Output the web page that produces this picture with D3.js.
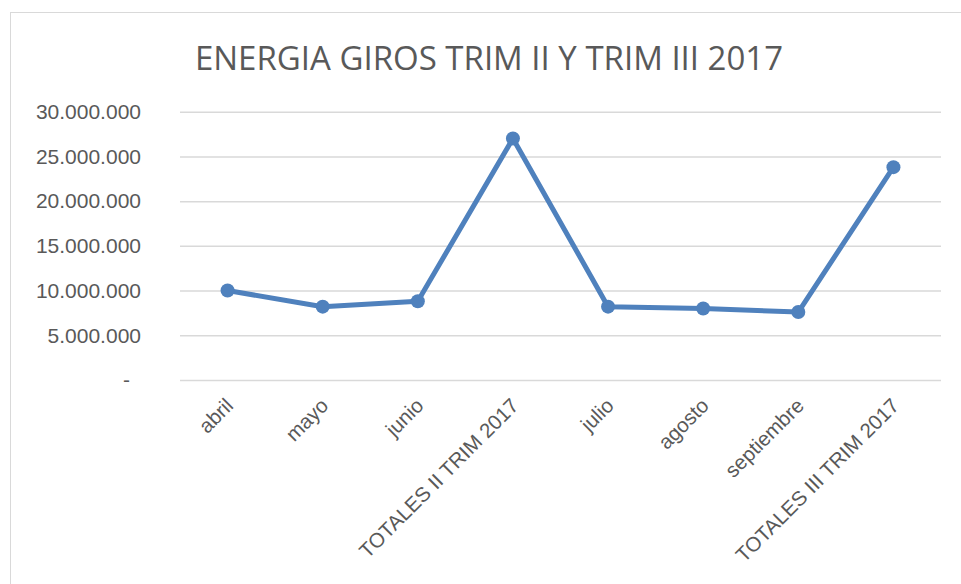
<!DOCTYPE html>
<html>
<head>
<meta charset="utf-8">
<script src="https://cdn.jsdelivr.net/npm/d3@7"></script>
<style>
  body { margin: 0; background: #fff; }
  svg { display: block; font-family: "Open Sans", sans-serif; }
  .grid line { stroke: #d9d9d9; stroke-width: 1.5; }
  .grid .domain { display: none; }
  .y-axis text, .x-axis text { fill: #595959; }
</style>
</head>
<body>
<svg id="chart"></svg>
<script>
const categories = ["abril", "mayo", "junio", "TOTALES II TRIM 2017", "julio", "agosto", "septiembre", "TOTALES III TRIM 2017"];
const values = [10000000, 8200000, 8800000, 27000000, 8200000, 8000000, 7600000, 23800000];
const yTicks = [0, 5000000, 10000000, 15000000, 20000000, 25000000, 30000000];
const title = "ENERGIA GIROS TRIM II Y TRIM III 2017";

const width = 961, height = 584;
const margin = { top: 111.7, right: 20, bottom: 204, left: 180 };

const svg = d3.select("#chart")
  .attr("width", width)
  .attr("height", height);

// chart frame
svg.append("rect")
  .attr("x", 10.5)
  .attr("y", 12.5)
  .attr("width", width)
  .attr("height", height)
  .attr("fill", "none")
  .attr("stroke", "#d9d9d9");

svg.append("text")
  .attr("x", 489)
  .attr("y", 70)
  .attr("text-anchor", "middle")
  .attr("font-size", 33)
  .attr("fill", "#595959")
  .text(title);

const x = d3.scaleBand()
  .domain(categories)
  .range([margin.left, width - margin.right]);

const y = d3.scaleLinear()
  .domain([0, 30000000])
  .range([height - margin.bottom, margin.top]);

const locale = d3.formatLocale({ decimal: ",", thousands: ".", grouping: [3], currency: ["", ""] });
const fmt = locale.format(",d");

// gridlines
svg.append("g")
  .attr("class", "grid")
  .attr("transform", "translate(" + margin.left + ",0)")
  .call(d3.axisLeft(y).tickValues(yTicks).tickSize(-(width - margin.right - margin.left)).tickFormat(""));

const yAxis = svg.append("g")
  .attr("class", "y-axis")
  .attr("transform", "translate(141,0)")
  .call(d3.axisLeft(y).tickValues(yTicks).tickSize(0).tickPadding(0).tickFormat(d => d === 0 ? "-" : fmt(d)));
yAxis.select(".domain").remove();
yAxis.selectAll("text").attr("font-size", 21);
yAxis.selectAll(".tick").filter(d => d === 0).select("text").attr("dx", -11);

const xAxis = svg.append("g")
  .attr("class", "x-axis")
  .attr("transform", "translate(0," + (height - margin.bottom) + ")")
  .call(d3.axisBottom(x).tickSize(0).tickPadding(0));
xAxis.select(".domain").remove();
xAxis.selectAll("text")
  .attr("font-size", 20.5)
  .attr("text-anchor", "end")
  .attr("dy", 0)
  .attr("y", 0)
  .attr("transform", "translate(7,27) rotate(-45)");

const line = d3.line()
  .x((d, i) => x(categories[i]) + x.bandwidth() / 2)
  .y(d => y(d));

svg.append("path")
  .datum(values)
  .attr("fill", "none")
  .attr("stroke", "#4f81bd")
  .attr("stroke-width", 5)
  .attr("stroke-linejoin", "round")
  .attr("d", line);

svg.append("g")
  .selectAll("circle")
  .data(values)
  .enter()
  .append("circle")
  .attr("cx", (d, i) => x(categories[i]) + x.bandwidth() / 2)
  .attr("cy", d => y(d))
  .attr("r", 7)
  .attr("fill", "#4f81bd");
</script>
</body>
</html>
